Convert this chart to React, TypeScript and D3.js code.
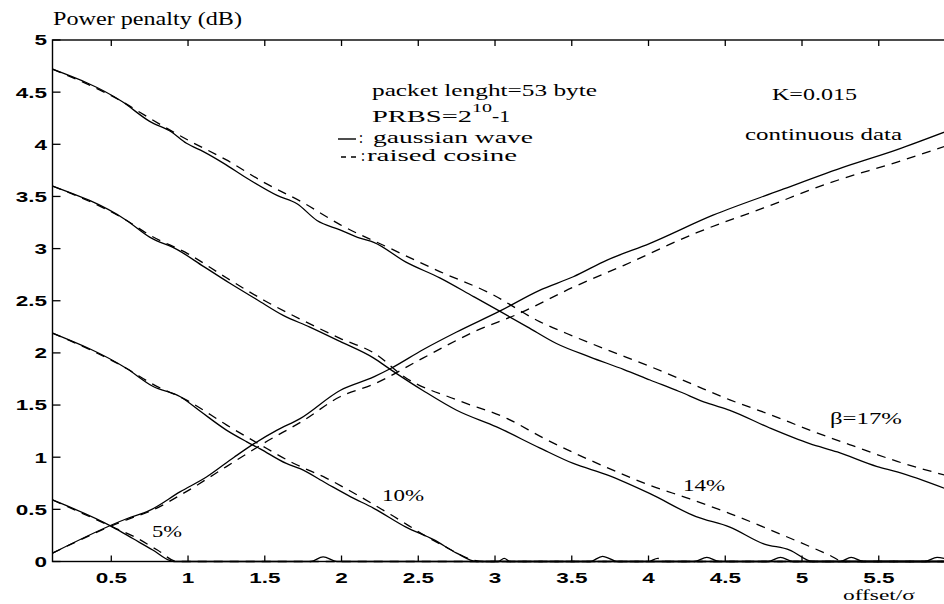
import { useEffect, useRef } from "react";
import * as d3 from "d3";

type Pt = [number, number];

// power penalty (dB) vs offset/sigma
// solid = gaussian wave, dashed = raised cosine
const gauss5: Pt[] = [
  [0.117, 0.59], [0.51, 0.33], [0.64, 0.22], [0.77, 0.11], [0.88, 0.01], [0.91, 0],
  [1.8, 0], [1.88, 0.045], [1.97, 0], [5.95, 0],
];
const raised5: Pt[] = [
  [0.117, 0.59], [0.51, 0.33], [0.66, 0.23], [0.8, 0.11], [0.93, 0], [5.95, 0],
];

const gauss10: Pt[] = [
  [0.117, 2.19], [0.6, 1.85], [0.77, 1.68], [0.95, 1.58], [1.08, 1.44], [1.25, 1.26],
  [1.38, 1.15], [1.47, 1.08], [1.64, 0.94], [1.73, 0.89], [1.9, 0.75], [2.06, 0.62],
  [2.21, 0.51], [2.42, 0.33], [2.6, 0.21], [2.75, 0.08], [2.88, 0],
  [3.02, 0], [3.06, 0.03], [3.1, 0], [3.62, 0], [3.7, 0.05], [3.8, 0],
  [4.3, 0], [4.38, 0.04], [4.46, 0], [4.78, 0], [4.86, 0.04], [4.94, 0], [5.95, 0],
];
const raised10: Pt[] = [
  [0.117, 2.19], [0.6, 1.85], [0.77, 1.7], [1.0, 1.54], [1.25, 1.31], [1.47, 1.12],
  [1.69, 0.94], [1.9, 0.8], [2.1, 0.64], [2.32, 0.45], [2.64, 0.17], [2.92, 0],
  [4.0, 0], [4.06, 0.03], [4.12, 0], [5.95, 0],
];

const gauss14: Pt[] = [
  [0.117, 3.6], [0.6, 3.27], [0.75, 3.11], [0.93, 2.99], [1.1, 2.83], [1.27, 2.67],
  [1.45, 2.51], [1.62, 2.36], [1.79, 2.25], [1.99, 2.11], [2.21, 1.95], [2.32, 1.84],
  [2.53, 1.64], [2.75, 1.45], [3.01, 1.29], [3.29, 1.09], [3.51, 0.94], [3.73, 0.83],
  [4.01, 0.65], [4.31, 0.43], [4.53, 0.33], [4.75, 0.17], [4.92, 0.11], [5.07, 0],
  [5.25, 0], [5.32, 0.04], [5.4, 0], [5.8, 0], [5.88, 0.04], [5.95, 0.02],
];
const raised14: Pt[] = [
  [0.117, 3.6], [0.6, 3.27], [0.75, 3.13], [1.0, 2.95], [1.25, 2.72], [1.5, 2.5],
  [1.75, 2.31], [1.99, 2.14], [2.21, 2.0], [2.42, 1.76], [2.75, 1.55], [3.08, 1.37],
  [3.32, 1.18], [3.73, 0.9], [4.01, 0.73], [4.27, 0.6], [4.53, 0.46], [4.88, 0.25],
  [5.18, 0.06], [5.27, 0], [5.95, 0],
];

const gauss17: Pt[] = [
  [0.117, 4.72], [0.57, 4.41], [0.75, 4.22], [0.89, 4.12], [0.99, 4.01], [1.1, 3.93],
  [1.23, 3.82], [1.4, 3.66], [1.58, 3.51], [1.71, 3.43], [1.84, 3.27], [1.99, 3.18],
  [2.12, 3.1], [2.21, 3.06], [2.42, 2.87], [2.64, 2.72], [2.86, 2.54], [3.03, 2.4],
  [3.21, 2.25], [3.4, 2.09], [3.62, 1.96], [3.84, 1.84], [4.01, 1.74], [4.2, 1.63],
  [4.38, 1.52], [4.53, 1.45], [4.79, 1.28], [5.05, 1.13], [5.23, 1.05], [5.49, 0.91],
  [5.62, 0.86], [5.95, 0.69],
];
const raised17: Pt[] = [
  [0.117, 4.72], [0.57, 4.41], [0.75, 4.25], [1.0, 4.04], [1.25, 3.85], [1.5, 3.63],
  [1.75, 3.44], [1.99, 3.23], [2.32, 3.0], [2.64, 2.78], [2.97, 2.57], [3.29, 2.3],
  [3.51, 2.16], [3.73, 2.03], [4.01, 1.87], [4.27, 1.71], [4.53, 1.55], [4.79, 1.41],
  [5.05, 1.26], [5.33, 1.11], [5.62, 0.96], [5.95, 0.82],
];

const gaussCont: Pt[] = [
  [0.117, 0.08], [0.6, 0.41], [0.75, 0.49], [0.95, 0.67], [1.12, 0.81], [1.3, 1.0],
  [1.43, 1.13], [1.58, 1.26], [1.73, 1.37], [1.99, 1.64], [2.21, 1.77], [2.32, 1.85],
  [2.53, 2.03], [2.75, 2.2], [3.03, 2.4], [3.29, 2.6], [3.51, 2.73], [3.73, 2.89],
  [4.01, 3.05], [4.42, 3.32], [4.86, 3.56], [5.29, 3.79], [5.62, 3.95], [5.95, 4.13],
];
const raisedCont: Pt[] = [
  [0.117, 0.08], [0.6, 0.4], [0.75, 0.48], [1.0, 0.68], [1.25, 0.91], [1.5, 1.14],
  [1.75, 1.35], [1.99, 1.58], [2.21, 1.7], [2.53, 1.95], [2.86, 2.2], [3.16, 2.38],
  [3.51, 2.63], [3.84, 2.84], [4.31, 3.15], [4.75, 3.39], [5.18, 3.63], [5.62, 3.83],
  [5.95, 3.99],
];

const solidSeries = [gauss5, gauss10, gauss14, gauss17, gaussCont];
const dashedSeries = [raised5, raised10, raised14, raised17, raisedCont];

const xTicks = [0.5, 1, 1.5, 2, 2.5, 3, 3.5, 4, 4.5, 5, 5.5];
const yTicks = [0, 0.5, 1, 1.5, 2, 2.5, 3, 3.5, 4, 4.5, 5];

const SERIF = "'Liberation Serif', 'Times New Roman', serif";
const SANS = "'Liberation Sans', Arial, sans-serif";

export default function App() {
  const ref = useRef<SVGSVGElement>(null);

  const width = 944;
  const height = 604;
  const plot = { left: 52.5, top: 40, right: 955.5, bottom: 561.5 };

  useEffect(() => {
    const svg = d3.select(ref.current);
    svg.selectAll("*").remove();

    const x = d3.scaleLinear().domain([0.117, 6]).range([plot.left, plot.right]);
    const y = d3.scaleLinear().domain([0, 5]).range([plot.bottom, plot.top]);

    svg
      .append("defs")
      .append("clipPath")
      .attr("id", "plotClip")
      .append("rect")
      .attr("x", plot.left)
      .attr("y", plot.top - 2)
      .attr("width", plot.right - plot.left)
      .attr("height", plot.bottom - plot.top + 4);

    // frame
    svg
      .append("rect")
      .attr("x", plot.left)
      .attr("y", plot.top)
      .attr("width", plot.right - plot.left)
      .attr("height", plot.bottom - plot.top)
      .attr("fill", "none")
      .attr("stroke", "#000")
      .attr("stroke-width", 1.4);

    // ticks point inwards
    const ticks = svg.append("g").attr("stroke", "#000").attr("stroke-width", 1.3);
    xTicks.forEach((t) => {
      ticks.append("line").attr("x1", x(t)).attr("x2", x(t)).attr("y1", plot.bottom).attr("y2", plot.bottom - 6);
      ticks.append("line").attr("x1", x(t)).attr("x2", x(t)).attr("y1", plot.top).attr("y2", plot.top + 6);
    });
    yTicks.forEach((t) => {
      ticks.append("line").attr("x1", plot.left).attr("x2", plot.left + 8).attr("y1", y(t)).attr("y2", y(t));
    });

    // tick labels (the scan is stretched horizontally, hence the scale)
    const labels = svg.append("g").attr("font-family", SANS).attr("font-size", 15).attr("font-weight", "bold");
    xTicks.forEach((t) => {
      labels
        .append("text")
        .attr("transform", `translate(${x(t)},583) scale(1.5,1)`)
        .attr("text-anchor", "middle")
        .text(String(t));
    });
    yTicks.forEach((t) => {
      labels
        .append("text")
        .attr("transform", `translate(47,${y(t)}) scale(1.5,1)`)
        .attr("text-anchor", "end")
        .attr("dy", "0.36em")
        .text(String(t));
    });

    // curves
    const line = d3
      .line<Pt>()
      .x((d) => x(d[0]))
      .y((d) => y(d[1]))
      .curve(d3.curveMonotoneX);

    const curves = svg.append("g").attr("clip-path", "url(#plotClip)").attr("fill", "none").attr("stroke", "#000");
    dashedSeries.forEach((s) => {
      curves.append("path").attr("d", line(s)).attr("stroke-width", 1.3).attr("stroke-dasharray", "9,7");
    });
    solidSeries.forEach((s) => {
      curves.append("path").attr("d", line(s)).attr("stroke-width", 1.3);
    });

    // annotations
    const note = (str: string, px: number, py: number, len: number, size = 17) =>
      svg
        .append("text")
        .attr("x", px)
        .attr("y", py)
        .attr("font-family", SERIF)
        .attr("font-size", size)
        .attr("textLength", len)
        .attr("lengthAdjust", "spacingAndGlyphs")
        .text(str);

    note("Power penalty (dB)", 53, 25, 189, 18);
    note("packet lenght=53 byte", 372, 96, 225);
    note("PRBS=2", 372, 122, 100);
    note("10", 472, 112, 20, 13);
    note("-1", 492, 122, 18);
    note(":", 359, 143, 4, 16);
    note("gaussian wave", 373, 143, 160, 16);
    note(":", 361, 161, 4, 16);
    note("raised cosine", 367, 161, 150, 16);
    note("K=0.015", 772, 100, 85);
    note("continuous data", 745, 140, 157);
    note("\u03b2=17%", 830, 424, 72);
    note("14%", 683, 491, 42);
    note("10%", 382, 501, 42);
    note("5%", 152, 537, 30);
    note("offset/\u03c3", 843, 600, 72, 15);

    // legend samples
    svg.append("line").attr("x1", 338).attr("x2", 356).attr("y1", 139).attr("y2", 139).attr("stroke", "#000").attr("stroke-width", 1.4);
    svg
      .append("line")
      .attr("x1", 341)
      .attr("x2", 358)
      .attr("y1", 157)
      .attr("y2", 157)
      .attr("stroke", "#000")
      .attr("stroke-width", 1.4)
      .attr("stroke-dasharray", "5,5");
  }, []);

  return (
    <div style={{ position: "absolute", left: 0, top: 0, width, height, background: "#fff" }}>
      <svg ref={ref} width={width} height={height} style={{ display: "block" }} />
    </div>
  );
}
